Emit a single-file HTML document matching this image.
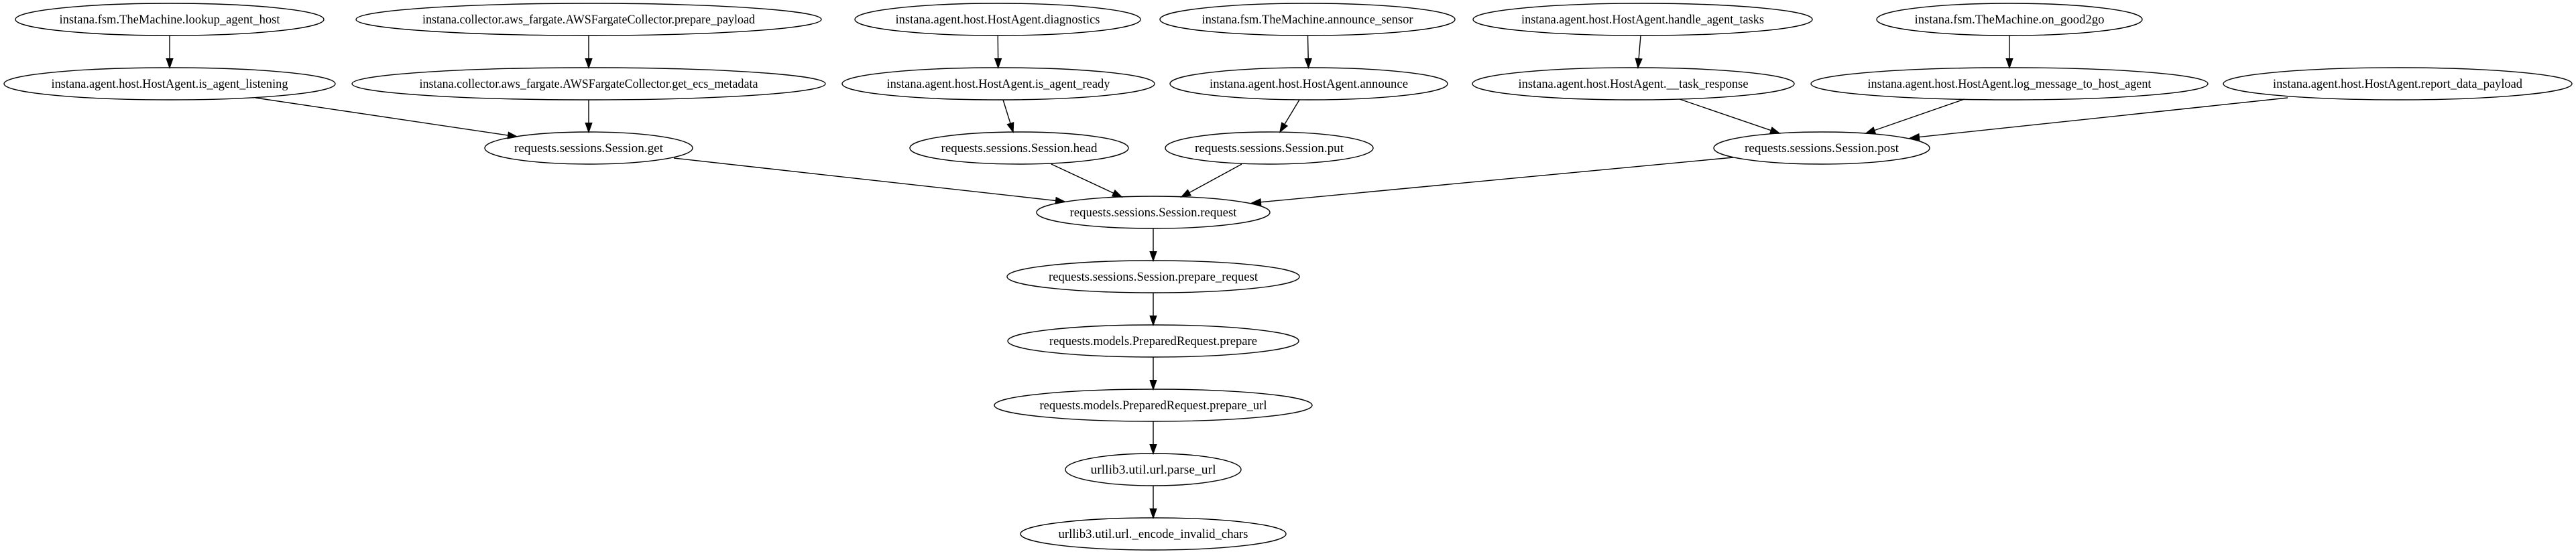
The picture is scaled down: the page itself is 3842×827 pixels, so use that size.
<!DOCTYPE html>
<html><head><meta charset="utf-8">
<style>
html,body{margin:0;padding:0;background:#fff;}
svg{display:block;}
text{font-family:"Liberation Serif","Times New Roman",serif;font-size:18.67px;fill:#000;}
</style></head>
<body>
<svg id="g" width="3842" height="827" viewBox="0 0 3842 827" xmlns="http://www.w3.org/2000/svg">
<rect width="3842" height="827" fill="#fff"/>
</svg>
<script>
var N={
 lookup:[253,29,230,"instana.fsm.TheMachine.lookup_agent_host"],
 prep:[878,29,347,"instana.collector.aws_fargate.AWSFargateCollector.prepare_payload"],
 diag:[1488,29,213,"instana.agent.host.HostAgent.diagnostics"],
 sensor:[1950,29,220,"instana.fsm.TheMachine.announce_sensor"],
 handle:[2450,29,253,"instana.agent.host.HostAgent.handle_agent_tasks"],
 good:[2997,29,198,"instana.fsm.TheMachine.on_good2go"],
 listen:[253,125,247,"instana.agent.host.HostAgent.is_agent_listening"],
 ecs:[878,125,353,"instana.collector.aws_fargate.AWSFargateCollector.get_ecs_metadata"],
 ready:[1489,125,233,"instana.agent.host.HostAgent.is_agent_ready"],
 ann:[1952,125,207,"instana.agent.host.HostAgent.announce"],
 task:[2436,125,240,"instana.agent.host.HostAgent.__task_response"],
 log:[2997,125,296,"instana.agent.host.HostAgent.log_message_to_host_agent"],
 rep:[3576,125,260,"instana.agent.host.HostAgent.report_data_payload"],
 get:[878,221,155,"requests.sessions.Session.get"],
 head:[1520,221,163,"requests.sessions.Session.head"],
 put:[1893,221,155,"requests.sessions.Session.put"],
 post:[2717,221,161,"requests.sessions.Session.post"],
 req:[1720,317,174,"requests.sessions.Session.request"],
 preq:[1720,413,218,"requests.sessions.Session.prepare_request"],
 prep2:[1720,509,217,"requests.models.PreparedRequest.prepare"],
 purl:[1720,605,237,"requests.models.PreparedRequest.prepare_url"],
 parse:[1720,701,131,"urllib3.util.url.parse_url"],
 enc:[1720,797,198,"urllib3.util.url._encode_invalid_chars"]
};
// [from,to, optional start point, optional tip point]
var E=[["lookup","listen"],["prep","ecs"],
 ["listen","get",[381,146],[771,204]],["ecs","get"],
 ["diag","ready"],["ready","head",[1496,149],[1511,197]],
 ["sensor","ann"],["ann","put",[1938,149],[1909,197]],
 ["handle","task",[2447,53],[2443,101]],
 ["task","post",[2505,148],[2654,199]],["good","log"],
 ["log","post",[2930,148],[2783,199]],["rep","post",[3412,146],[2849,206]],
 ["get","req",[1005,236],[1588,301]],["head","req",[1568,245],[1673,294]],
 ["put","req",[1852,245],[1762,294]],["post","req",[2585,235],[1867,303]],
 ["req","preq"],["preq","prep2"],["prep2","purl"],["purl","parse"],["parse","enc"]];
var RY=24, ns="http://www.w3.org/2000/svg", svg=document.getElementById("g");
function el(t,a,txt){var e=document.createElementNS(ns,t);for(var k in a)e.setAttribute(k,a[k]);if(txt)e.textContent=txt;svg.appendChild(e);return e;}
function clip(n,dx,dy){var t=1/Math.sqrt(Math.pow(dx/n[2],2)+Math.pow(dy/RY,2));return [n[0]+dx*t,n[1]+dy*t];}
E.forEach(function(e){var a=N[e[0]],b=N[e[1]];var dx=b[0]-a[0],dy=b[1]-a[1];
 var s=e[2]||clip(a,dx,dy),t=e[3]||clip(b,-dx,-dy);
 var L=Math.hypot(t[0]-s[0],t[1]-s[1]);var ux=(t[0]-s[0])/L,uy=(t[1]-s[1])/L;
 var al=13.3,aw=4.7;var bx=t[0]-ux*al,by=t[1]-uy*al;
 el("line",{x1:s[0],y1:s[1],x2:bx,y2:by,stroke:"#000","stroke-width":1.4});
 el("polygon",{points:t[0]+","+t[1]+" "+(bx-uy*aw)+","+(by+ux*aw)+" "+(bx+uy*aw)+","+(by-ux*aw),fill:"#000",stroke:"#000","stroke-width":1.4});
});
for(var k in N){var n=N[k];
 el("ellipse",{cx:n[0],cy:n[1],rx:n[2],ry:RY,fill:"none",stroke:"#000","stroke-width":1.4});
 el("text",{x:n[0],y:n[1]+6,"text-anchor":"middle",textLength:Math.round(n[2]*2*0.715),lengthAdjust:"spacingAndGlyphs"},n[3]);
}
</script>
</body></html>
